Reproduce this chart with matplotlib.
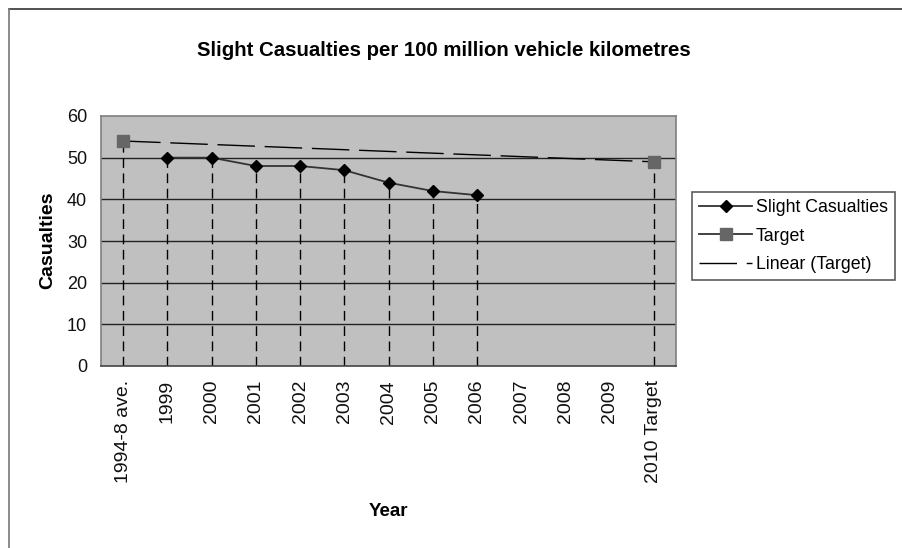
import matplotlib
matplotlib.use("Agg")
import matplotlib.pyplot as plt
from matplotlib.lines import Line2D
import numpy as np

plt.rcParams['font.family'] = ['Liberation Sans', 'DejaVu Sans']

categories = ["1994-8 ave.", "1999", "2000", "2001", "2002", "2003", "2004",
              "2005", "2006", "2007", "2008", "2009", "2010 Target"]
slight_casualties = [np.nan, 50, 50, 48, 48, 47, 44, 42, 41,
                     np.nan, np.nan, np.nan, np.nan]
target = [54, np.nan, np.nan, np.nan, np.nan, np.nan, np.nan,
          np.nan, np.nan, np.nan, np.nan, np.nan, 49]
y_ticks = [0, 10, 20, 30, 40, 50, 60]

W, H = 903, 548
fig = plt.figure(figsize=(W / 100, H / 100), dpi=100)

# chart frame (top and left edges visible)
fig.add_artist(Line2D([9 / W, 1.0], [1 - 9 / H, 1 - 9 / H], transform=fig.transFigure,
                      color="#333333", lw=1.2))
fig.add_artist(Line2D([9 / W, 9 / W], [0.0, 1 - 9 / H], transform=fig.transFigure,
                      color="#777777", lw=1.2))

left, right, top, bottom = 101, 676, 116, 366
ax = fig.add_axes([left / W, 1 - bottom / H, (right - left) / W, (bottom - top) / H])
ax.set_facecolor("#c0c0c0")

x = np.arange(len(categories))
sc = np.array(slight_casualties, dtype=float)
tg = np.array(target, dtype=float)

# horizontal gridlines
for v in y_ticks[1:-1]:
    ax.axhline(v, color="#222222", lw=1.0, zorder=1)

# drop lines from every data point to the axis
for series in (sc, tg):
    for xi, yi in zip(x, series):
        if not np.isnan(yi):
            ax.plot([xi, xi], [0, yi], color="black", lw=1.0,
                    linestyle=(0, (7, 4)), zorder=2)

# linear trend through the target points
mask = ~np.isnan(tg)
coef = np.polyfit(x[mask], tg[mask], 1)
xt = np.array([0, len(categories) - 1])
trend_line, = ax.plot(xt, np.polyval(coef, xt), color="black", lw=1.0,
                      linestyle=(0, (27, 7)), zorder=3, label="Linear (Target)")

sc_line, = ax.plot(x, sc, color="#333333", lw=1.3, marker="D", markersize=6.5,
                   markerfacecolor="black", markeredgecolor="black", zorder=4,
                   label="Slight Casualties")
tg_line, = ax.plot(x, tg, color="#333333", lw=1.3, marker="s", markersize=8.6,
                   markerfacecolor="#666666", markeredgecolor="#666666", zorder=5,
                   label="Target")

ax.set_xlim(-0.5, len(categories) - 0.5)
ax.set_ylim(0, 60)
ax.set_yticks(y_ticks)
ax.set_xticks(x)
ax.set_xticklabels(categories, rotation=90, fontsize=14)
ax.tick_params(axis="both", length=0, colors="#111111")
ax.tick_params(axis="y", labelsize=13, pad=10)
ax.tick_params(axis="x", pad=10)
for s in ax.spines.values():
    s.set_color("#808080")
    s.set_linewidth(1.2)
ax.spines["bottom"].set_color("#444444")

fig.text(48 / W, 1 - 240 / H, "Casualties", ha="center", va="center", rotation=90,
         fontsize=14, fontweight="bold")
fig.text(388 / W, 1 - 511 / H, "Year", ha="center", va="center",
         fontsize=13.5, fontweight="bold")
fig.text(444 / W, 1 - 51 / H, "Slight Casualties per 100 million vehicle kilometres",
         ha="center", va="center", fontsize=14.7, fontweight="bold")

leg = fig.legend(handles=[sc_line, tg_line, trend_line],
                 loc="upper left", bbox_to_anchor=(692 / W, 1 - 192 / H),
                 fontsize=12.8, frameon=True, fancybox=False, handlelength=3.0,
                 handletextpad=0.2, borderpad=0.4, borderaxespad=0,
                 labelspacing=0.65)
leg.get_frame().set_edgecolor("#333333")
leg.get_frame().set_linewidth(1.2)
leg._legend_box.sep = 0

fig.savefig("out.png", dpi=100)
